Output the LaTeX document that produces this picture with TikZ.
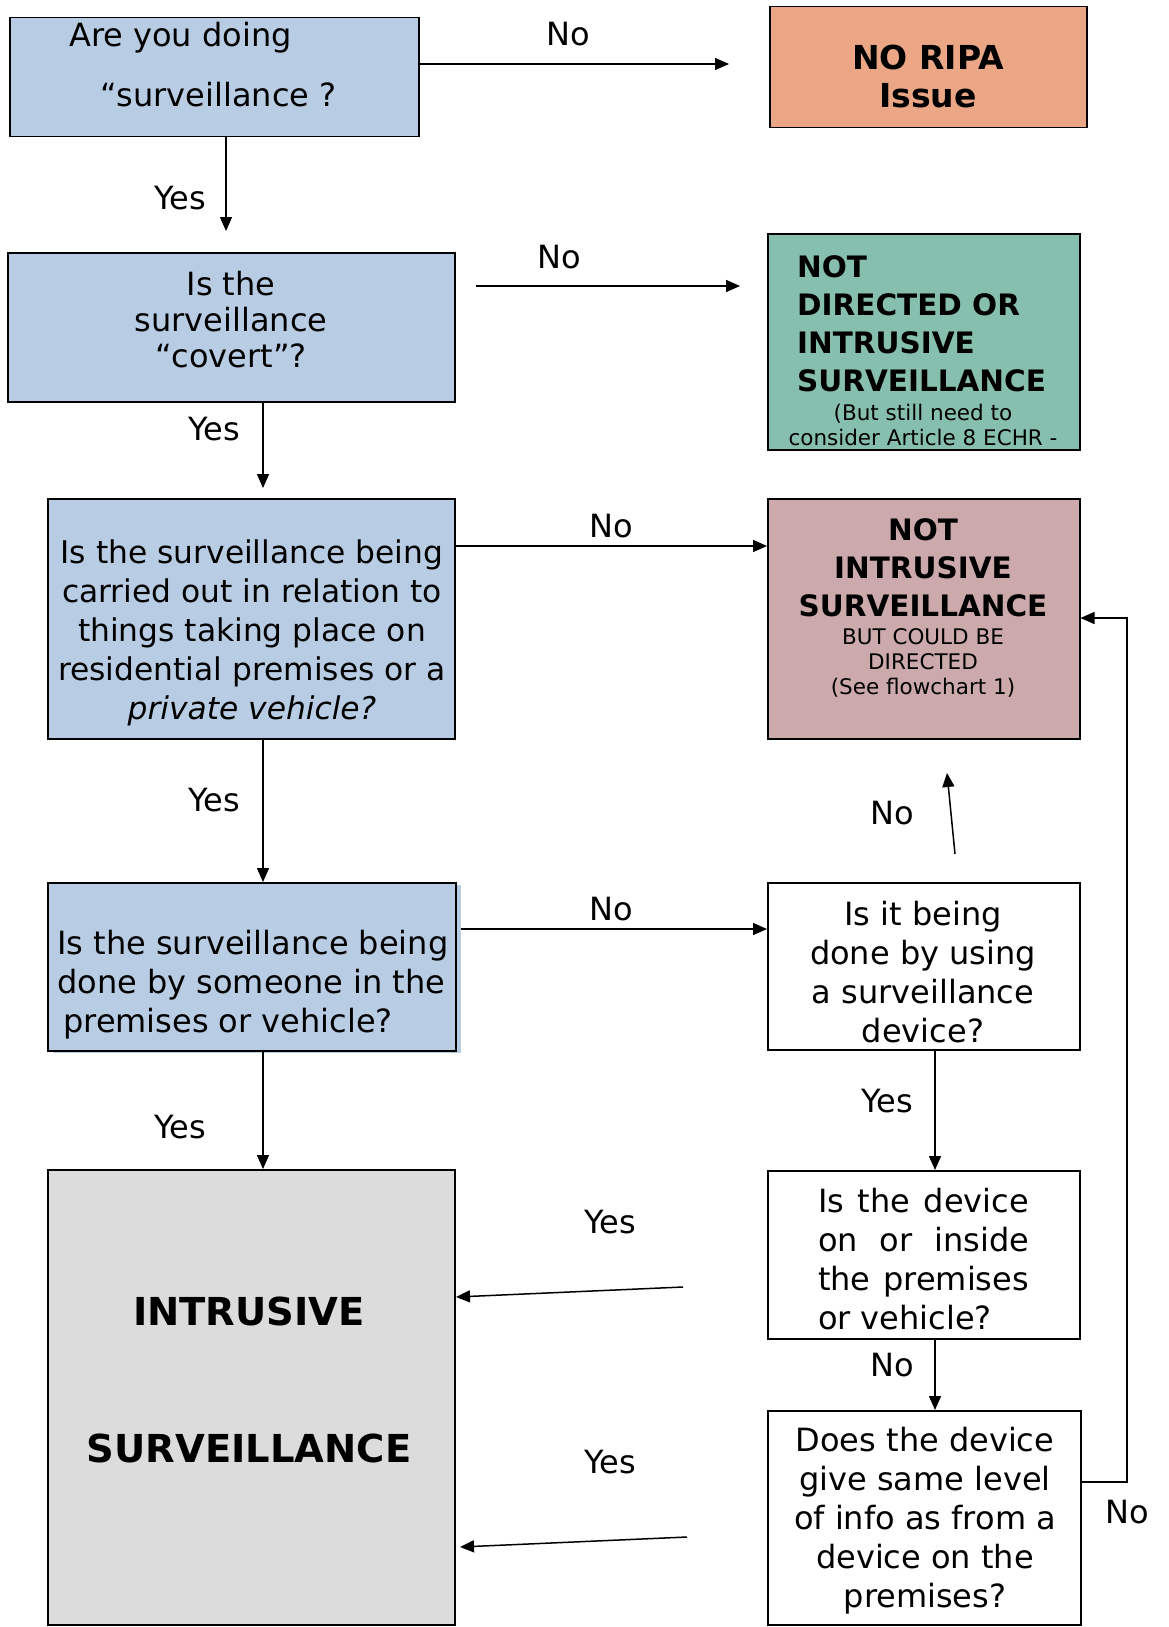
\documentclass[tikz,border=0pt]{standalone}
\usepackage{fontspec}
\setmainfont{DejaVu Sans}
\usetikzlibrary{arrows.meta}
\definecolor{qblue}{RGB}{184,204,228}
\definecolor{qorange}{RGB}{234,166,133}
\definecolor{qgreen}{RGB}{134,191,173}
\definecolor{qpink}{RGB}{204,170,171}
\definecolor{qgrey}{RGB}{220,220,220}
\newcommand\fntq{\fontsize{32}{39}\selectfont}
\newcommand\fnth{\fontsize{29.5}{38}\selectfont\bfseries}
\newcommand\fnts{\fontsize{21.5}{25}\selectfont}
\newcommand\fntb{\fontsize{38.5}{46}\selectfont\bfseries}
\begin{document}
\begin{tikzpicture}[x=1pt,y=-1pt,
  box/.style={draw=black, line width=1.5pt, inner sep=0pt, anchor=north west},
  txt/.style={inner sep=0pt, align=center, font=\fntq},
  lab/.style={inner sep=0pt, font=\fntq},
  arr/.style={line width=1.5pt, -{Triangle[length=14pt,width=12pt]}}]
\useasboundingbox (0,0) rectangle (1168,1627);
% boxes
\node[box, fill=qblue, minimum width=409pt, minimum height=119pt] (b1) at (9,17) {};
\node[box, fill=qorange, minimum width=317pt, minimum height=121pt] (ripa) at (769,6) {};
\node[box, fill=qblue, minimum width=447pt, minimum height=149pt] (b2) at (7,252) {};
\node[box, fill=qgreen, minimum width=312pt, minimum height=216pt] (green) at (767,233) {};
\node[box, fill=qblue, minimum width=407pt, minimum height=240pt] (b3) at (47,498) {};
\node[box, fill=qpink, minimum width=312pt, minimum height=240pt] (pink) at (767,498) {};
\fill[qblue] (53,885) rectangle (461,1053);
\node[box, fill=qblue, minimum width=408pt, minimum height=168pt] (b4) at (47,882) {};
\node[box, minimum width=312pt, minimum height=167pt] (dev) at (767,882) {};
\node[box, minimum width=312pt, minimum height=168pt] (inside) at (767,1170) {};
\node[box, minimum width=313pt, minimum height=214pt] (last) at (767,1410) {};
\node[box, fill=qgrey, minimum width=407pt, minimum height=455pt] (grey) at (47,1169) {};
% texts
\node[txt, anchor=west] (t1a) at (69,38) {Are you doing};
\node[txt, anchor=west] (t1b) at (100,95) {“surveillance ?};
\node[txt, font=\bfseries\fontsize{33}{38}\selectfont] (tripa) at (928,76) {NO RIPA\\Issue};
\node[txt, font=\fontsize{32}{36}\selectfont] (t2) at (231,320) {Is the\\surveillance\\“covert”?};
\node[inner sep=0pt, align=left, font=\fnth, anchor=north west] (tg) at (797,255) {NOT\\DIRECTED OR\\INTRUSIVE\\SURVEILLANCE};
\node[txt, font=\fnts] (tg2) at (923,425) {(But still need to\\consider Article 8 ECHR -};
\node[txt, font=\fontsize{31.3}{39}\selectfont] (t3) at (252,633) {Is the surveillance being\\carried out in relation to\\things taking place on\\residential premises or a\\\textit{private vehicle?}};
\node[txt, font=\fnth] (tp1) at (923,568) {NOT\\INTRUSIVE\\SURVEILLANCE};
\node[txt, font=\fnts] (tp2) at (923,663) {BUT COULD BE\\DIRECTED\\(See flowchart 1)};
\node[inner sep=0pt, align=left, font=\fntq, anchor=west] (t4) at (57,985) {Is the surveillance being\\done by someone in the\\\hspace*{6pt}premises or vehicle?};
\node[txt] (tdev) at (923,972) {Is it being\\done by using\\a surveillance\\device?};
\node[txt] (tins) at (923.5,1259) {\makebox[211pt][s]{Is the device}\\\makebox[211pt][s]{on  or  inside}\\\makebox[211pt][s]{the premises}\\\makebox[211pt][l]{or vehicle?}};
\node[txt] (tlast) at (925,1521) {Does the device\\give same level\\of info as from a\\device on the\\premises?};
\node[txt, font=\fntb] (tg1) at (249,1311) {INTRUSIVE};
\node[txt, font=\fntb] (tg2b) at (249,1448) {SURVEILLANCE};
% coordinates
\coordinate (c1) at (729,64);
\coordinate (c2) at (226,231);
\coordinate (c3a) at (476,286);
\coordinate (c3b) at (740,286);
\coordinate (c4) at (263,488);
\coordinate (c5) at (0,546);
\coordinate (c6) at (263,0);
\coordinate (c7) at (0,929);
\coordinate (c9a) at (955,854);
\coordinate (c9b) at (947,773);
\coordinate (c10) at (935,0);
\coordinate (c12) at (1127,0);
\coordinate (c12y) at (0,1482);
\coordinate (c12z) at (0,618);
\coordinate (c13a) at (683,1287);
\coordinate (c13b) at (456,1297);
\coordinate (c14a) at (687,1537);
\coordinate (c14b) at (460,1547);
% connectors
\draw[arr] (b1.east |- c1) -- (c1);
\draw[arr] (c2 |- b1.south) -- (c2);
\draw[arr] (c3a) -- (c3b);
\draw[arr] (c4 |- b2.south) -- (c4);
\draw[arr] (b3.east |- c5) -- (pink.west |- c5);
\draw[arr] (c6 |- b3.south) -- (c6 |- b4.north);
\draw[arr] (461,0 |- c7) -- (dev.west |- c7);
\draw[arr] (c6 |- b4.south) -- (c6 |- grey.north);
\draw[arr] (c9a) -- (c9b);
\draw[arr] (c10 |- dev.south) -- (c10 |- inside.north);
\draw[arr] (c10 |- inside.south) -- (c10 |- last.north);
\draw[arr] (last.east |- c12y) -| (c12 |- c12z) -- (pink.east |- c12z);
\draw[arr] (c13a) -- (c13b);
\draw[arr] (c14a) -- (c14b);
% labels
\node[lab] (l1) at (568,34) {No};
\node[lab] (l2) at (180,198) {Yes};
\node[lab] (l3) at (559,257) {No};
\node[lab] (l4) at (214,429) {Yes};
\node[lab] (l5) at (611,526) {No};
\node[lab] (l6) at (214,800) {Yes};
\node[lab] (l7) at (611,909) {No};
\node[lab] (l8) at (892,813) {No};
\node[lab] (l9) at (887,1101) {Yes};
\node[lab] (l10) at (180,1127) {Yes};
\node[lab] (l11) at (610,1222) {Yes};
\node[lab] (l12) at (892,1365) {No};
\node[lab] (l13) at (610,1462) {Yes};
\node[lab] (l14) at (1127,1512) {No};
\end{tikzpicture}
\end{document}
